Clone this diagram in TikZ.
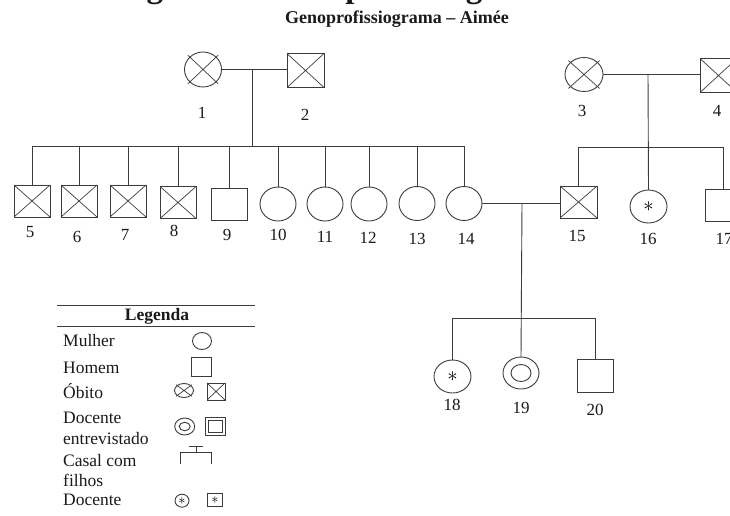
\documentclass[tikz,border=0pt]{standalone}
\usepackage{fontspec}
\setmainfont{Liberation Serif}
\usetikzlibrary{shapes.geometric,calc}
\definecolor{ln}{HTML}{3C3C3C}
\definecolor{tx}{HTML}{1A1A1A}
\tikzset{
  fem/.style={ellipse, draw=ln, line width=0.9pt, inner sep=0pt, outer sep=0pt, minimum width=36pt, minimum height=34pt},
  masc/.style={rectangle, draw=ln, line width=0.9pt, inner sep=0pt, outer sep=0pt, minimum width=36pt, minimum height=32pt},
  num/.style={inner sep=0pt, text=tx, font=\fontsize{17}{17}\selectfont},
  leg/.style={inner sep=0pt, anchor=base west, text=tx, font=\fontsize{17.5}{20}\selectfont},
  conn/.style={draw=ln, line width=0.9pt},
  xline/.style={draw=ln, line width=0.7pt},
  astbig/.style={font=\fontsize{21}{21}\selectfont},
  astsmall/.style={font=\fontsize{15}{15}\selectfont}
}
\begin{document}
\begin{tikzpicture}[x=1pt,y=-1pt]
\useasboundingbox (0,0) rectangle (730,516);
\clip (0,0) rectangle (730,516);
\fill[white] (0,0) rectangle (730,516);

% titles
\node[inner sep=0pt, anchor=base west, text=tx, font=\fontsize{33}{33}\selectfont\bfseries] (tt) at (117,-2) {Figura 1 – Genoprofissiograma};
\node[inner sep=0pt, text=tx, font=\fontsize{18}{18}\selectfont\bfseries] (st) at (397,19) {Genoprofissiograma – Aimée};

% generation 1
\node[fem, minimum width=37pt, minimum height=35pt] (p1) at (203,69.5) {};
\node[masc, minimum width=37pt, minimum height=34pt] (p2) at (305.5,70.5) {};
\node[fem, minimum width=38pt, minimum height=34pt] (p3) at (584,74.5) {};
\node[masc, minimum width=37pt, minimum height=34pt] (p4) at (718.5,75.5) {};

% generation 2
\node[masc] (p5) at (32,201) {};
\node[masc] (p6) at (79,201) {};
\node[masc] (p7) at (128,201) {};
\node[masc] (p8) at (178,202.5) {};
\node[masc] (p9) at (229.5,204) {};
\node[fem] (p10) at (278,204) {};
\node[fem] (p11) at (325,204) {};
\node[fem] (p12) at (369,204) {};
\node[fem] (p13) at (417,203.5) {};
\node[fem] (p14) at (464,203.5) {};
\node[masc, minimum width=37pt] (p15) at (578.5,202) {};
\node[fem, minimum width=37pt, minimum height=33pt, astbig] (p16) at (648.5,206.5) {$\ast$};
\node[masc] (p17) at (723,205) {};

% generation 3
\node[fem, minimum width=37pt, minimum height=33pt, astbig] (p18) at (452.5,376.5) {$\ast$};
\node[fem, minimum width=36pt, minimum height=32pt] (p19) at (521,373) {};
\draw[conn] (p19.center) ellipse (10 and 8.5);
\node[masc, minimum width=36pt, minimum height=33pt] (p20) at (595,375.5) {};

% crosses (deceased)
\foreach \n in {p2,p4,p5,p6,p7,p8,p15}
  \draw[xline] (\n.north west) -- (\n.south east) (\n.south west) -- (\n.north east);
\foreach \n in {p1,p3}
  \draw[xline] ($(\n.center)!1.16!(\n.north east)$) -- ($(\n.center)!1.16!(\n.south west)$)
               ($(\n.center)!1.16!(\n.north west)$) -- ($(\n.center)!1.16!(\n.south east)$);

% numbers
\node[num] (l1) at (202,113) {1};
\node[num] (l2) at (305,115) {2};
\node[num] (l3) at (582,110.5) {3};
\node[num] (l4) at (717,110.5) {4};
\node[num] (l5) at (30,232.5) {5};
\node[num] (l6) at (77,236.5) {6};
\node[num] (l7) at (125,235) {7};
\node[num] (l8) at (174,231) {8};
\node[num] (l9) at (227,235) {9};
\node[num] (l10) at (278,235) {10};
\node[num] (l11) at (325,237) {11};
\node[num] (l12) at (368,237.5) {12};
\node[num] (l13) at (417,238.5) {13};
\node[num] (l14) at (466,238.5) {14};
\node[num] (l15) at (577,235.5) {15};
\node[num] (l16) at (648,238.5) {16};
\node[num] (l17) at (724,238.5) {17};
\node[num] (l18) at (452,404.5) {18};
\node[num] (l19) at (521,407.5) {19};
\node[num] (l20) at (595,409.5) {20};

% connectors
\coordinate (m12) at (252.5,69.5);
\coordinate (s1) at (252.5,146);
\coordinate (m34) at (648,74.5);
\coordinate (s2) at (648,147);
\coordinate (m1415) at (522,203.5);
\coordinate (s3) at (522,318);

\draw[conn] (p1.east) -- (p1.east -| p2.west);
\draw[conn] (m12) -- (s1);
\foreach \c in {5,...,14}
  \draw[conn] (p\c.north) |- (s1);

\draw[conn] (p3.east) -- (p3.east -| p4.west);
\draw[conn] (m34) -- (p16.north);
\draw[conn] (p15.north) |- (s2);
\draw[conn] (p17.north) |- (s2);

\draw[conn] (p14.east) -- (p14.east -| p15.west);
\draw[conn] (m1415) -- (p19.north);
\draw[conn] (p18.north) |- (s3);
\draw[conn] (p20.north) |- (s3);

% legend
\draw[conn] (57,305) -- (255,305);
\draw[conn] (57,326) -- (255,326);
\node[inner sep=0pt, anchor=base, text=tx, font=\fontsize{17.5}{20}\selectfont\bfseries] (lg) at (157,320.5) {Legenda};
\node[leg] (t1) at (63,346.7) {Mulher};
\node[leg] (t2) at (63,373.3) {Homem};
\node[leg] (t3) at (63,398.3) {Óbito};
\node[leg] (t4) at (63,423.3) {Docente};
\node[leg] (t5) at (63,444) {entrevistado};
\node[leg] (t6) at (63,466.7) {Casal com};
\node[leg] (t7) at (63,486.7) {filhos};
\node[leg] (t8) at (63,505) {Docente};

\node[fem, minimum width=19pt, minimum height=17pt] (lw) at (202,341) {};
\node[masc, minimum width=20pt, minimum height=19pt] (lm) at (201.5,367) {};
\node[fem, minimum width=19pt, minimum height=14pt] (lof) at (184,390.5) {};
\node[masc, minimum width=18pt, minimum height=17pt] (lom) at (216,391.5) {};
\draw[xline] (lom.north west) -- (lom.south east) (lom.south west) -- (lom.north east);
\draw[xline] ($(lof.center)!1.16!(lof.north east)$) -- ($(lof.center)!1.16!(lof.south west)$)
             ($(lof.center)!1.16!(lof.north west)$) -- ($(lof.center)!1.16!(lof.south east)$);
\node[fem, minimum width=20pt, minimum height=17pt] (ldf) at (184.7,426.5) {};
\draw[conn] (ldf.center) ellipse (5.5 and 4.2);
\node[masc, minimum width=20pt, minimum height=18pt] (ldm) at (215.7,426.7) {};
\draw[conn] (ldm.center) +(-7,-6) rectangle +(7,6);
\draw[conn] (189,446.7) -- (202.7,446.7) (196,446.7) -- (196,452.3);
\draw[conn] (180,464) -- (180,452.3) -- (211.7,452.3) -- (211.7,464);
\node[fem, minimum width=14pt, minimum height=13pt, astsmall] (ldocf) at (182,500.7) {$\ast$};
\node[masc, minimum width=15pt, minimum height=13pt, astsmall] (ldocm) at (215,499.7) {$\ast$};
\end{tikzpicture}
\end{document}
